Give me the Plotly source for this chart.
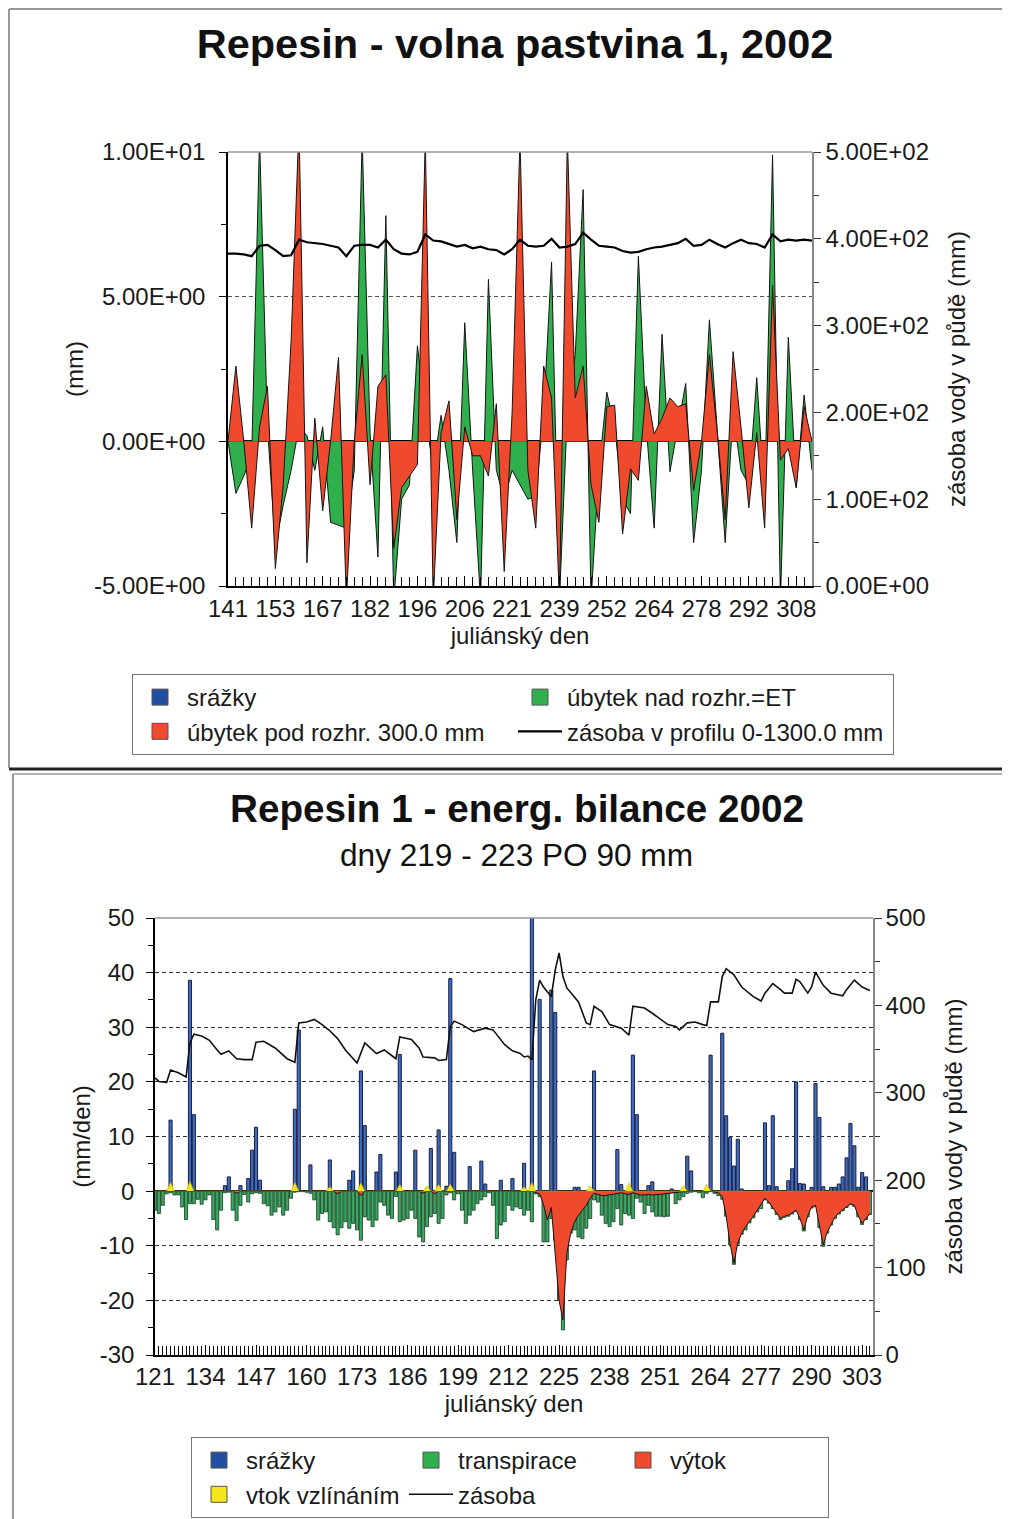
import plotly.graph_objects as go

FONT = "Liberation Sans, Arial, sans-serif"
BLUE = "#1f4f9e"
BAR_BLUE = "#3d6db3"
GREEN = "#2fb04c"
BAR_GREEN = "#3aa860"
RED = "#ef4a2d"
YELLOW = "#f5e51b"

# ---------------- top chart data (measurement index positions) ----------------
top_idx = list(range(75))
top_tick_pos = [0, 6, 12, 18, 24, 30, 36, 42, 48, 54, 60, 66, 72]
top_tick_labels = ["141", "153", "167", "182", "196", "206", "221", "239", "252", "264", "278", "292", "308"]

ubytek_nad = [0, -1.8, -1.2, -0.5, 10.5, 0.5, -3.6, -2.2, -1.0, 0.5,
              0.2, -1.0, 0.5, -2.8, -2.9, -3.0, -1.0, 10.5, 0.3, -4.0,
              7.8, -5.5, -2.0, -1.5, 3.3, 1.0, -1.0, 0.9, -1.0, -3.5,
              4.1, -1.0, -5.5, 5.6, -1.0, -2.0, -1.0, -1.5, -2.0, -1.9,
              1.0, 6.2, -5.5, 1.0, 3.0, 8.7, -5.5, -1.0, 1.7, 0.5,
              -2.0, -2.5, 6.4, 0.5, -3.0, 3.7, -1.05, 0.5, 2.0, -3.5,
              -1.0, 4.2, 0.5, -3.5, 1.0, -1.0, -1.5, 2.2, -2.0, 9.9,
              -5.5, 3.6, -1.6, 1.6, -1.0]

ubytek_pod = [0, 2.6, 0, -3.0, 0.5, 1.9, -4.4, -1.5, 3.5, 11,
              -4.2, 0.8, -2.4, 0.0, 2.9, -5.5, 0, 3.0, -1.5, 1.9,
              2.3, -3.7, -1.6, -1.2, -0.8, 10.5, -5.5, 0.3, 1.4, -2.7,
              0.5, -0.5, -0.5, -1.2, 1.3, -4.5, 1.0, 10.5, -1.0, -3.0,
              2.6, 1.5, -5.5, 10.5, 1.5, 2.6, -1.5, -2.8, 1.2, 1.25,
              -3.2, -0.95, -1.35, 1.9, 0.25, 0.8, 1.5, 1.2, 1.3, -1.7,
              0, 3.0, 0.3, -2.7, 3.1, 0.5, -2.3, 0.3, -3.0, 5.4,
              -0.65, -0.25, -1.6, 1.2, 0.0]

zasoba_top = [383, 383, 382, 380, 392, 393, 387, 380, 381, 399,
              396, 395, 394, 392, 390, 380, 392, 393, 393, 390,
              399, 388, 383, 382, 385, 405, 398, 397, 394, 391,
              393, 389, 391, 388, 387, 382, 388, 399, 392, 391,
              392, 400, 390, 391, 394, 407, 399, 392, 391, 390,
              386, 384, 385, 388, 390, 391, 393, 395, 400, 392,
              393, 399, 394, 390, 395, 399, 395, 394, 390, 405,
              397, 399, 398, 399, 398]

top_left_ticks = [-5, 0, 5, 10]
top_left_labels = ["-5.00E+00", "0.00E+00", "5.00E+00", "1.00E+01"]
top_right_ticks = [0, 100, 200, 300, 400, 500]
top_right_labels = ["0.00E+00", "1.00E+02", "2.00E+02", "3.00E+02", "4.00E+02", "5.00E+02"]

# ---------------- bottom chart data (julian days) ----------------
days = list(range(121, 306))
bottom_left_ticks = [-30, -20, -10, 0, 10, 20, 30, 40, 50]
bottom_left_labels = ["-30", "-20", "-10", "0", "10", "20", "30", "40", "50"]

precip_days = [125, 130, 131, 139, 140, 143, 145, 146, 147, 148,
               157, 158, 161, 166, 171, 172, 174, 175, 178, 179,
               183, 184, 188, 192, 194, 196, 197, 198, 202, 205,
               206, 210, 213, 216, 218, 220, 223, 224, 229, 230,
               234, 240, 241, 244, 245, 248, 249, 254, 258, 259,
               264, 267, 268, 269, 270, 271, 272, 278, 279, 280,
               281, 284, 285, 286, 287, 288, 290, 291, 292, 293,
               295, 296, 297, 298, 299, 300, 301, 302, 303, 304]
precip_vals = [13.0, 38.6, 14.0, 1.0, 2.6, 1.0, 2.3, 7.5, 11.7, 2.0,
               15.0, 29.5, 4.8, 5.7, 2.0, 3.7, 22.0, 12.0, 3.5, 6.7,
               3.5, 25.0, 7.5, 7.8, 11.2, 0.9, 38.9, 7.1, 4.5, 5.5,
               1.3, 2.0, 2.3, 5.1, 55.0, 35.1, 36.8, 32.7, 0.7, 0.7,
               22.0, 7.6, 1.2, 24.9, 14.0, 1.0, 1.7, 0.4, 6.4, 3.7,
               24.9, 28.9, 13.8, 9.8, 4.6, 9.5, 0.4, 12.5, 1.0, 13.8,
               0.8, 1.9, 4.1, 20.0, 1.4, 1.3, 0.7, 19.7, 13.5, 0.8,
               0.7, 0.7, 1.3, 2.6, 6.1, 12.4, 8.3, 0.7, 3.4, 2.6]

transpirace = [-3.5, -4.1, -2.6, -0.5, -0.3, -0.7, -0.7, -2.9, -5.2, -2.3,
               -2.3, -1.5, -2.4, -1.6, -0.7, -5.2, -7.1, -3.5, -0.3, -0.2,
               -3.5, -5.4, -2.6, -0.6, -2.0, -0.5, -0.3, -0.4, -2.3, -2.7,
               -4.4, -3.8, -2.9, -4.4, -3.5, -1.3, -0.2, -0.1, -0.1, -0.2,
               -0.4, -1.6, -5.3, -4.1, -3.8, -5.6, -6.7, -8.0, -6.7, -5.6,
               -6.8, -5.9, -7.1, -9.0, -4.7, -5.3, -6.5, -5.3, -2.0, -2.6,
               -4.4, -5.0, -1.0, -5.6, -5.3, -5.0, -3.5, -5.0, -8.4, -9.3,
               -6.5, -4.7, -4.1, -5.9, -5.0, -0.7, -0.3, -1.6, -0.5, -3.5,
               -5.9, -4.4, -3.5, -2.3, -1.6, -1.0, -0.3, -2.6, -8.7, -6.2,
               -5.6, -2.6, -3.5, -2.9, -3.2, -4.4, -3.5, -5.6, -0.5, -1.0,
               -9.3, -9.3, -5.0, -9.0, -20.0, -25.4, -12.6, -7.7, -7.1, -8.4,
               -8.7, -6.8, -5.0, -1.6, -2.0, -4.4, -5.9, -6.5, -5.6, -3.2,
               -6.2, -4.1, -4.4, -5.0, -1.3, -2.0, -4.1, -2.6, -3.8, -4.6,
               -4.6, -4.7, -4.6, -0.3, -2.3, -1.6, -1.0, -0.4, -0.2, -0.1,
               -0.3, -1.2, -0.4, -0.1, -0.4, -0.8, -1.5, -4.6, -9.8, -13.4,
               -9.7, -7.9, -7.1, -5.8, -4.9, -3.8, -3.2, -1.6, -2.2, -3.2,
               -4.3, -5.2, -4.8, -4.6, -4.2, -3.7, -5.2, -7.3, -4.7, -3.1,
               -2.8, -6.7, -10.1, -7.7, -6.2, -5.0, -4.2, -3.6, -3.0, -2.5,
               -2.8, -4.7, -6.1, -5.2, -4.3]

vytok_days = [121, 141, 142, 143, 167, 168, 169, 173, 174, 175, 189, 190, 191, 192, 193, 194, 218,
              219, 220, 221, 222, 223, 224, 225, 226, 227, 228, 229, 230, 231, 232, 233, 234,
              235, 236, 237, 238, 239, 240, 241, 242, 243, 244, 245, 246, 247, 248, 249, 250,
              251, 252, 253, 254, 255, 256, 257, 258, 264, 265, 266, 267, 268, 269, 270, 271,
              272, 273, 274, 275, 276, 277, 278, 279, 280, 281, 282, 283, 284, 285, 286, 287,
              288, 289, 290, 291, 292, 293, 294, 295, 296, 297, 298, 299, 300, 301, 302, 303, 304, 305]
vytok_vals = [0, 0, -0.4, 0, 0, -0.5, 0, 0, -0.8, 0, 0, -0.4, 0, 0, -0.5, 0, 0,
              -0.3, -0.5, -2.5, -5.3, -3.0, -10.8, -20.0, -23.6, -11.4, -7.7, -5.6, -4.4, -3.5, -2.6, -1.3, -0.4,
              -0.6, -0.8, -0.8, -0.7, -0.6, -0.4, -0.3, -0.5, -0.6, -0.3, -0.5, -0.7, -0.7, -0.6, -0.7, -0.7,
              -0.6, -0.5, -0.4, -0.3, -0.3, -0.2, -0.1, 0, 0, -0.1, -0.3, -1.0, -4.5, -9.6, -13.2, -9.5,
              -7.7, -6.5, -5.6, -4.6, -3.5, -2.5, -1.3, -2.0, -3.0, -4.1, -5.0, -4.6, -4.4, -4.0, -3.5, -5.0,
              -7.1, -4.5, -2.9, -2.6, -6.5, -9.9, -7.5, -6.0, -4.8, -4.0, -3.4, -2.8, -2.3, -2.6, -4.5, -5.9, -5.0, -4.1]

vtok_days = [125, 130, 157, 166, 174, 184, 191, 194, 197, 216, 218, 233, 243, 257, 263]
vtok_vals = [1.6, 1.8, 1.6, 0.8, 1.5, 1.2, 1.0, 1.2, 1.3, 0.8, 1.6, 1.0, 1.5, 1.0, 1.3]

zasoba_days = [121, 122, 124, 125, 127, 129, 130, 131, 133, 135,
               137, 138, 140, 142, 144, 146, 147, 149, 152, 155,
               157, 158, 160, 162, 164, 166, 168, 170, 173, 175,
               178, 180, 183, 184, 187, 189, 190, 193, 194, 196,
               197, 198, 200, 203, 206, 208, 211, 213, 215, 216,
               217, 218, 219, 220, 221, 223, 224, 225, 226, 227,
               230, 232, 233, 234, 236, 238, 241, 243, 244, 247,
               249, 253, 255, 256, 258, 260, 262, 263, 264, 266,
               267, 268, 270, 272, 275, 277, 278, 280, 282, 283,
               285, 286, 287, 289, 290, 291, 293, 295, 298, 299,
               301, 303, 305]
zasoba_vals = [317, 313, 312, 326, 323, 318, 357, 367, 365, 360,
               349, 344, 348, 339, 338, 338, 358, 359, 351, 339,
               335, 380, 381, 384, 378, 371, 362, 349, 334, 357,
               345, 349, 339, 364, 361, 351, 341, 340, 337, 338,
               376, 382, 378, 370, 374, 372, 355, 348, 345, 341,
               342, 338, 406, 429, 421, 410, 440, 460, 433, 420,
               404, 380, 378, 399, 393, 378, 374, 366, 399, 397,
               391, 378, 376, 372, 380, 381, 378, 377, 404, 404,
               433, 442, 435, 421, 410, 405, 414, 425, 418, 414,
               414, 430, 427, 414, 421, 438, 423, 414, 411, 418,
               429, 421, 417]

vtok_lookup = dict(zip(vtok_days, vtok_vals))
vtok_daily = [vtok_lookup.get(d, 0) for d in days]

# ---------------- figure ----------------
fig = go.Figure()

# top chart
fig.add_trace(go.Scatter(x=top_idx, y=ubytek_nad, mode="lines", fill="tozeroy", fillcolor=GREEN,
                         line=dict(color="#151515", width=1), xaxis="x", yaxis="y",
                         showlegend=False, hoverinfo="skip"))
fig.add_trace(go.Scatter(x=top_idx, y=ubytek_pod, mode="lines", fill="tozeroy", fillcolor=RED,
                         line=dict(color="#151515", width=1), xaxis="x", yaxis="y",
                         showlegend=False, hoverinfo="skip"))
fig.add_trace(go.Scatter(x=top_idx, y=zasoba_top, mode="lines", line=dict(color="black", width=2.2),
                         xaxis="x", yaxis="y2", name="zásoba v profilu 0-1300.0 mm",
                         legend="legend", legendrank=4))
for name, col, rank in [("srážky", BLUE, 1), ("úbytek nad rozhr.=ET", GREEN, 2),
                        ("úbytek pod rozhr. 300.0 mm", RED, 3)]:
    fig.add_trace(go.Scatter(x=[None], y=[None], mode="markers", name=name,
                             marker=dict(symbol="square", size=16, color=col,
                                         line=dict(color="#555", width=1)),
                             xaxis="x", yaxis="y", legend="legend", legendrank=rank))

# bottom chart
fig.add_trace(go.Bar(x=days, y=transpirace, width=0.8, marker=dict(color=BAR_GREEN, line=dict(color="#163a22", width=0.8)),
                     xaxis="x2", yaxis="y3", showlegend=False, hoverinfo="skip"))
fig.add_trace(go.Bar(x=precip_days, y=precip_vals, width=0.8, marker=dict(color=BAR_BLUE, line=dict(color="#1a1d52", width=1)),
                     xaxis="x2", yaxis="y3", showlegend=False, hoverinfo="skip"))
fig.add_trace(go.Scatter(x=vytok_days, y=vytok_vals, mode="lines", fill="tozeroy", fillcolor=RED,
                         line=dict(color="#151515", width=1), xaxis="x2", yaxis="y3",
                         showlegend=False, hoverinfo="skip"))
fig.add_trace(go.Scatter(x=days, y=vtok_daily, mode="lines", fill="tozeroy", fillcolor=YELLOW,
                         line=dict(color="#c9b800", width=0.6), xaxis="x2", yaxis="y3",
                         showlegend=False, hoverinfo="skip"))
fig.add_trace(go.Scatter(x=zasoba_days, y=zasoba_vals, mode="lines", line=dict(color="#111", width=1.6),
                         xaxis="x2", yaxis="y4", name="zásoba", legend="legend2", legendrank=5))
for name, col, rank in [("srážky", BLUE, 1), ("transpirace", GREEN, 2), ("výtok", RED, 3),
                        ("vtok vzlínáním", YELLOW, 4)]:
    fig.add_trace(go.Scatter(x=[None], y=[None], mode="markers", name=name,
                             marker=dict(symbol="square", size=16, color=col,
                                         line=dict(color="#555", width=1)),
                             xaxis="x2", yaxis="y3", legend="legend2", legendrank=rank))

W, H = 1010, 1519
ML, MR = 105, 105
PW = W - ML - MR
OFF = 8  # page body offset


def px(xp):
    return (xp - OFF - ML) / PW


def py(yp):
    return 1 - (yp - OFF) / H


tick_font = dict(size=24, color="#1a1a1a")
title_font = dict(size=24, color="#1a1a1a")

fig.update_layout(
    width=W, height=H,
    margin=dict(l=ML, r=MR, t=0, b=0, autoexpand=False),
    paper_bgcolor="white", plot_bgcolor="white",
    barmode="overlay",
    font=dict(family=FONT, size=24, color="#1a1a1a"),
    title=dict(text="Repesin - volna pastvina 1, 2002", xref="container", yref="container",
               x=(515 - OFF) / W, y=1 - (43 - OFF) / H, xanchor="center", yanchor="middle",
               font=dict(size=41.5, weight="bold", color="#111")),
    xaxis=dict(domain=[px(228), px(812)], anchor="y", range=[0, 74],
               tickmode="array", tickvals=top_tick_pos, ticktext=top_tick_labels,
               ticks="inside", ticklen=10, tickcolor="black", tickwidth=1,
               minor=dict(tickmode="linear", tick0=0, dtick=1, ticks="inside", ticklen=9,
                          tickcolor="black", showgrid=False),
               showline=True, linecolor="black", linewidth=1.5, showgrid=False, zeroline=False,
               tickfont=tick_font, ticklabelstandoff=0,
               title=dict(text="juliánský den", font=title_font, standoff=6)),
    yaxis=dict(domain=[py(586), py(152)], anchor="x", range=[-5, 10],
               tickmode="array", tickvals=top_left_ticks, ticktext=top_left_labels,
               ticks="outside", ticklen=7, tickcolor="black",
               minor=dict(tickmode="linear", tick0=-5, dtick=2.5, ticks="outside", ticklen=5,
                          tickcolor="black", showgrid=False),
               showline=True, linecolor="black", linewidth=1.5,
               showgrid=True, gridcolor="#555", griddash="4px,3px", gridwidth=1,
               zeroline=True, zerolinecolor="black", zerolinewidth=1.5,
               tickfont=tick_font, ticklabelstandoff=9,
               title=dict(text="(mm)", font=title_font, standoff=4)),
    yaxis2=dict(overlaying="y", side="right", anchor="x", range=[0, 500],
                tickmode="array", tickvals=top_right_ticks, ticktext=top_right_labels,
                ticks="outside", ticklen=7, tickcolor="#333",
                minor=dict(tickmode="linear", tick0=0, dtick=50, ticks="outside", ticklen=5,
                           tickcolor="#333", showgrid=False),
                showline=True, linecolor="#888", linewidth=1.5, showgrid=False, zeroline=False,
                tickfont=tick_font, ticklabelstandoff=0,
                title=dict(text="zásoba vody v půdě (mm)", font=title_font, standoff=20)),
    xaxis2=dict(domain=[px(155), px(873)], anchor="y3", range=[121, 305.8],
                tickmode="linear", tick0=121, dtick=13,
                ticks="inside", ticklen=10, tickcolor="black",
                minor=dict(tickmode="linear", tick0=121, dtick=1, ticks="inside", ticklen=9,
                           tickcolor="black", showgrid=False),
                showline=True, linecolor="black", linewidth=1.5, showgrid=False, zeroline=False,
                tickfont=tick_font, ticklabelstandoff=-1,
                title=dict(text="juliánský den", font=title_font, standoff=2)),
    yaxis3=dict(domain=[py(1355), py(918)], anchor="x2", range=[-30, 50],
                tickmode="array", tickvals=bottom_left_ticks, ticktext=bottom_left_labels,
                ticks="outside", ticklen=7, tickcolor="black",
                minor=dict(tickmode="linear", tick0=-30, dtick=5, ticks="outside", ticklen=5,
                           tickcolor="black", showgrid=False),
                showline=True, linecolor="black", linewidth=1.5,
                showgrid=True, gridcolor="#333", griddash="4px,3px", gridwidth=1,
                zeroline=True, zerolinecolor="black", zerolinewidth=1.5,
                tickfont=tick_font, ticklabelstandoff=7,
                title=dict(text="(mm/den)", font=title_font, standoff=2)),
    yaxis4=dict(overlaying="y3", side="right", anchor="x2", range=[0, 500],
                tickmode="linear", tick0=0, dtick=100,
                ticks="outside", ticklen=7, tickcolor="#333",
                minor=dict(tickmode="linear", tick0=0, dtick=50, ticks="outside", ticklen=5,
                           tickcolor="#333", showgrid=False),
                showline=True, linecolor="#888", linewidth=1.5, showgrid=False, zeroline=False,
                tickfont=tick_font, ticklabelstandoff=-1,
                title=dict(text="zásoba vody v půdě (mm)", font=title_font, standoff=21)),
    legend=dict(orientation="h", x=px(132), xanchor="left", y=py(674), yanchor="top",
                bordercolor="#777", borderwidth=1, bgcolor="white",
                font=dict(size=24, color="#1a1a1a"), entrywidth=321, entrywidthmode="pixels",
                itemwidth=44, traceorder="normal"),
    legend2=dict(orientation="h", x=px(191), xanchor="left", y=py(1437), yanchor="top",
                 bordercolor="#777", borderwidth=1, bgcolor="white",
                 font=dict(size=24, color="#1a1a1a"), entrywidth=153, entrywidthmode="pixels",
                 itemwidth=44, traceorder="normal"),
    annotations=[
        dict(text="Repesin 1 - energ. bilance 2002", xref="paper", yref="paper",
             x=px(517), y=py(808), xanchor="center", yanchor="middle", showarrow=False,
             font=dict(size=38.7, weight="bold", color="#111")),
        dict(text="dny 219 - 223 PO 90 mm", xref="paper", yref="paper",
             x=px(516), y=py(855), xanchor="center", yanchor="middle", showarrow=False,
             font=dict(size=31.6, color="#111")),
    ],
    shapes=[
        # plot-area top borders
        dict(type="line", xref="x domain", yref="y domain", x0=0, x1=1, y0=1, y1=1,
             line=dict(color="#999", width=1.5)),
        dict(type="line", xref="x2 domain", yref="y3 domain", x0=0, x1=1, y0=1, y1=1,
             line=dict(color="#999", width=1.5)),
        # panel frames
        dict(type="line", xref="paper", yref="paper", x0=px(9), x1=px(1020), y0=py(9), y1=py(9),
             line=dict(color="#999", width=2)),
        dict(type="line", xref="paper", yref="paper", x0=px(9), x1=px(9), y0=py(9), y1=py(768),
             line=dict(color="#999", width=2)),
        dict(type="line", xref="paper", yref="paper", x0=px(9), x1=px(1020), y0=py(769), y1=py(769),
             line=dict(color="#222", width=3)),
        dict(type="line", xref="paper", yref="paper", x0=px(13), x1=px(1020), y0=py(774), y1=py(774),
             line=dict(color="#999", width=1.5)),
        dict(type="line", xref="paper", yref="paper", x0=px(13), x1=px(13), y0=py(774), y1=py(1530),
             line=dict(color="#999", width=2)),
    ],
)

fig.write_html("out.html")
